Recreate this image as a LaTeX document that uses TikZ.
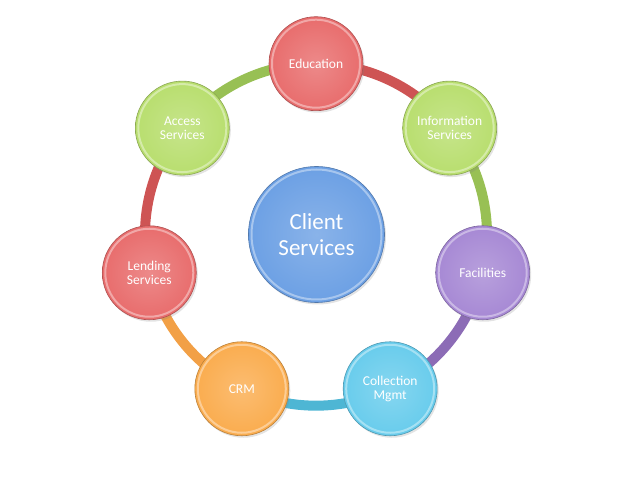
\documentclass[tikz,border=0pt]{standalone}
\usepackage{fontspec}
\setmainfont{Carlito}
\usetikzlibrary{backgrounds,shadows,calc}
\definecolor{cRed}{RGB}{232,108,108}
\definecolor{cGreen}{RGB}{184,222,110}
\definecolor{cPurple}{RGB}{166,136,212}
\definecolor{cCyan}{RGB}{104,204,236}
\definecolor{cOrange}{RGB}{250,172,78}
\definecolor{cBlue}{RGB}{108,160,228}
\definecolor{aRed}{RGB}{206,84,84}
\definecolor{aGreen}{RGB}{152,192,84}
\definecolor{aPurple}{RGB}{140,108,182}
\definecolor{aCyan}{RGB}{78,182,212}
\definecolor{aOrange}{RGB}{242,160,70}
\tikzset{
  bub/.style={circle, minimum size=94pt, inner sep=0pt, align=center,
    font=\fontsize{13.5}{14.5}\selectfont, text=white, draw=#1!75!black, line width=0.6pt,
    shading=radial, inner color=#1!80!white, outer color=#1,
    drop shadow={opacity=0.22, shadow xshift=1.5pt, shadow yshift=-2pt},
    path picture={\draw[white, opacity=0.4, line width=2pt] (path picture bounding box.center) circle (44pt);}},
  hub/.style={bub=#1, minimum size=136pt, font=\fontsize{23}{26}\selectfont,
    path picture={\draw[white, opacity=0.4, line width=2pt] (path picture bounding box.center) circle (65pt);}},
  ring/.style={draw=#1, line width=10pt, bend left=25.7, looseness=0.9}
}
\begin{document}
\begin{tikzpicture}[x=1pt,y=1pt]
\useasboundingbox (0,0) rectangle (638,479);
\coordinate (o) at (316,244.3);
\node[hub=cBlue] (client) at (316.5,244.5) {Client\\Services};
\node[bub=cRed]    (edu)  at ($(o)+(90:171)$) {Education};
\node[bub=cGreen]  (info) at ($(o)+(38.571:171)$) {Information\\Services};
\node[bub=cPurple] (fac)  at ($(o)+(-12.857:171)$) {Facilities};
\node[bub=cCyan]   (coll) at ($(o)+(-64.286:171)$) {Collection\\Mgmt};
\node[bub=cOrange] (crm)  at ($(o)+(-115.714:171)$) {CRM};
\node[bub=cRed]    (lend) at ($(o)+(-167.143:171)$) {Lending\\Services};
\node[bub=cGreen]  (acc)  at ($(o)+(141.429:171)$) {Access\\Services};
\begin{pgfonlayer}{background}
\draw[ring=aRed]    (edu.center)  to (info.center);
\draw[ring=aGreen]  (info.center) to (fac.center);
\draw[ring=aPurple] (fac.center)  to (coll.center);
\draw[ring=aCyan]   (coll.center) to (crm.center);
\draw[ring=aOrange] (crm.center)  to (lend.center);
\draw[ring=aRed]    (lend.center) to (acc.center);
\draw[ring=aGreen]  (acc.center)  to (edu.center);
\end{pgfonlayer}
\end{tikzpicture}
\end{document}
